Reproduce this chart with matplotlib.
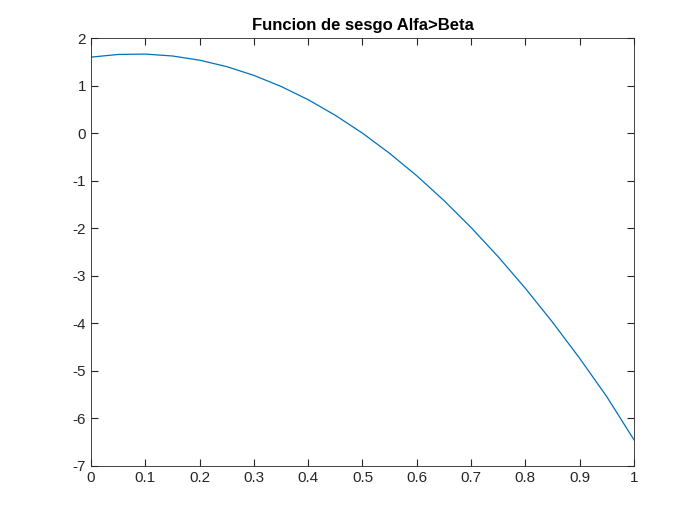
import matplotlib
matplotlib.use("Agg")
import matplotlib.pyplot as plt

x = [0, 0.05, 0.1, 0.15, 0.2, 0.25, 0.3, 0.35, 0.4, 0.45, 0.5, 0.55, 0.6, 0.65, 0.7, 0.75, 0.8, 0.85, 0.9, 0.95, 1.0]
y = [1.60, 1.656, 1.664, 1.624, 1.536, 1.40, 1.216, 0.984, 0.704, 0.376, 0.0, -0.424, -0.896, -1.416,
     -1.984, -2.60, -3.264, -3.976, -4.736, -5.544, -6.45]
xticks = [0, 0.1, 0.2, 0.3, 0.4, 0.5, 0.6, 0.7, 0.8, 0.9, 1]
yticks = [-7, -6, -5, -4, -3, -2, -1, 0, 1, 2]

plt.rcParams['font.family'] = ['Liberation Sans', 'DejaVu Sans']
plt.rcParams['axes.unicode_minus'] = False
fig = plt.figure(figsize=(7, 5.25), dpi=100)
ax = fig.add_axes([0.13, 0.1124, 0.7757, 0.815])
ax.plot(x, y, color='#0072BD', lw=0.9)
ax.set_xlim(0, 1)
ax.set_ylim(-7, 2)
ax.set_xticks(xticks)
ax.set_xticklabels([f"{t:g}" for t in xticks])
ax.set_yticks(yticks)
ax.set_yticklabels([f"{t:g}" for t in yticks])
ax.tick_params(direction='in', top=True, right=True, labelsize=11, length=5, color='#262626', labelcolor='#262626')
for s in ax.spines.values():
    s.set_color('#262626'); s.set_linewidth(0.6)
ax.set_title('Funcion de sesgo Alfa>Beta', fontsize=12, fontweight='bold', color='#000000')
fig.savefig('out.png', dpi=100)
